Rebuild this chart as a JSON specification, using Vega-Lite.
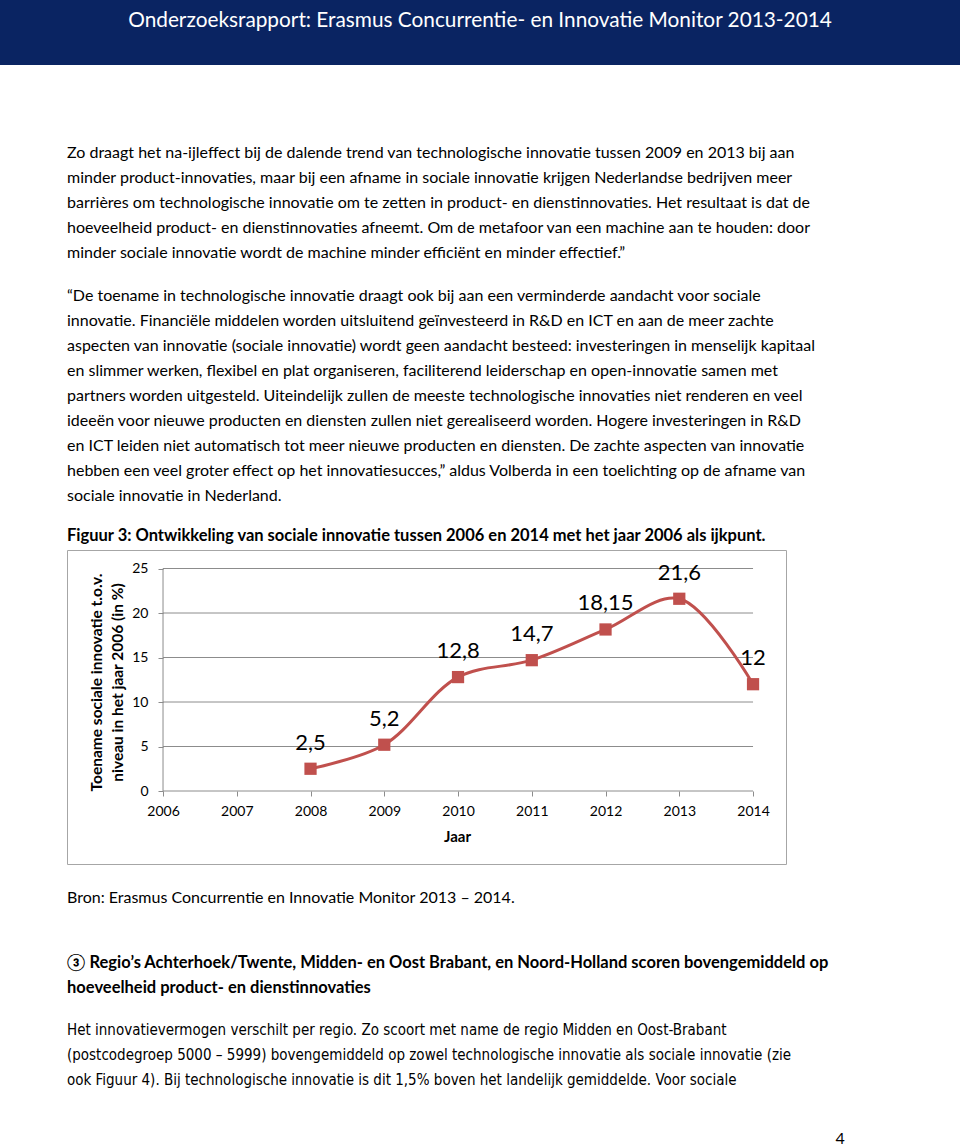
{
  "$schema": "https://vega.github.io/schema/vega-lite/v6.json",
  "padding": 0,
  "spacing": 80,
  "background": "white",
  "config": {
    "locale": {"number": {"decimal": ",", "thousands": ".", "grouping": [3], "currency": ["€ ", ""]}},
    "view": {"stroke": null},
    "concat": {"spacing": 0},
    "title": {"font": "Lato", "fontSize": 16, "fontWeight": "normal", "color": "#000000", "anchor": "start", "frame": "group", "lineHeight": 25, "subtitleFont": "Lato", "subtitleFontSize": 16, "subtitleColor": "#000000", "subtitleLineHeight": 25}
  },
  "vconcat": [
    {
      "width": 960,
      "height": 65,
      "view": {"fill": "#0a2462", "stroke": null},
      "data": {"values": [{"kop": "Onderzoeksrapport: Erasmus Concurrentie- en Innovatie Monitor 2013-2014"}]},
      "mark": {"type": "text", "color": "#ffffff", "font": "Lato", "fontSize": 20.8, "baseline": "middle", "dy": -12},
      "encoding": {"text": {"field": "kop"}}
    },
    {
      "spacing": 0,
      "hconcat": [
        {
          "width": 66,
          "height": 1,
          "data": {"values": []},
          "mark": "point",
          "view": {"stroke": null}
        },
        {
          "title": {
            "text": [
              "Zo draagt het na-ijleffect bij de dalende trend van technologische innovatie tussen 2009 en 2013 bij aan",
              "minder product-innovaties, maar bij een afname in sociale innovatie krijgen Nederlandse bedrijven meer",
              "barrières om technologische innovatie om te zetten in product- en dienstinnovaties. Het resultaat is dat de",
              "hoeveelheid product- en dienstinnovaties afneemt. Om de metafoor van een machine aan te houden: door",
              "minder sociale innovatie wordt de machine minder efficiënt en minder effectief.”"
            ],
            "subtitle": [
              "“De toename in technologische innovatie draagt ook bij aan een verminderde aandacht voor sociale",
              "innovatie. Financiële middelen worden uitsluitend geïnvesteerd in R&D en ICT en aan de meer zachte",
              "aspecten van innovatie (sociale innovatie) wordt geen aandacht besteed: investeringen in menselijk kapitaal",
              "en slimmer werken, flexibel en plat organiseren, faciliterend leiderschap en open-innovatie samen met",
              "partners worden uitgesteld. Uiteindelijk zullen de meeste technologische innovaties niet renderen en veel",
              "ideeën voor nieuwe producten en diensten zullen niet gerealiseerd worden. Hogere investeringen in R&D",
              "en ICT leiden niet automatisch tot meer nieuwe producten en diensten. De zachte aspecten van innovatie",
              "hebben een veel groter effect op het innovatiesucces,” aldus Volberda in een toelichting op de afname van",
              "sociale innovatie in Nederland."
            ],
            "subtitlePadding": 27,
            "offset": 23
          },
          "vconcat": [
            {
              "title": {"text": "4", "orient": "bottom", "anchor": "end", "frame": "bounds", "dx": 16, "offset": 43},
              "vconcat": [
                {
                  "title": {
                    "text": [
                      "③ Regio’s Achterhoek/Twente, Midden- en Oost Brabant, en Noord-Holland scoren bovengemiddeld op",
                      "hoeveelheid product- en dienstinnovaties"
                    ],
                    "subtitle": [
                      "Het innovatievermogen verschilt per regio. Zo scoort met name de regio Midden en Oost-Brabant",
                      "(postcodegroep 5000 – 5999) bovengemiddeld op zowel technologische innovatie als sociale innovatie (zie",
                      "ook Figuur 4). Bij technologische innovatie is dit 1,5% boven het landelijk gemiddelde. Voor sociale"
                    ],
                    "orient": "bottom",
                    "fontWeight": "bold",
                    "fontSize": 16.5,
                    "offset": 49,
                    "subtitlePadding": 27,
                    "subtitleFont": "DejaVu Sans Condensed",
                    "subtitleFontSize": 15
                  },
                  "vconcat": [
                    {
                      "title": {"text": "Bron: Erasmus Concurrentie en Innovatie Monitor 2013 – 2014.", "orient": "bottom", "offset": 25},
                      "vconcat": [
                        {
                          "width": 719,
                          "height": 314,
                          "view": {"stroke": "#a6a6a6", "strokeWidth": 1},
                          "title": {"text": "Figuur 3: Ontwikkeling van sociale innovatie tussen 2006 en 2014 met het jaar 2006 als ijkpunt.", "fontWeight": "bold", "fontSize": 16.5, "offset": 6},
                          "data": {"values": [
                            {"jaar": 2008, "waarde": 2.5},
                            {"jaar": 2009, "waarde": 5.2},
                            {"jaar": 2010, "waarde": 12.8},
                            {"jaar": 2011, "waarde": 14.7},
                            {"jaar": 2012, "waarde": 18.15},
                            {"jaar": 2013, "waarde": 21.6},
                            {"jaar": 2014, "waarde": 12}
                          ]},
                          "layer": [
                            {
                              "data": {"values": [{"v": 0}, {"v": 5}, {"v": 10}, {"v": 15}, {"v": 20}, {"v": 25}]},
                              "mark": {"type": "rule", "color": "#8c8c8c", "strokeWidth": 1},
                              "encoding": {
                                "y": {"field": "v", "type": "quantitative", "scale": {"domain": [-8.202, 27.079], "nice": false, "zero": false}},
                                "x": {"datum": 2006, "type": "quantitative", "scale": {"domain": [2004.698, 2014.447], "nice": false, "zero": false}},
                                "x2": {"datum": 2014}
                              }
                            },
                            {
                              "data": {"values": [{"jaar": 2006}]},
                              "mark": {"type": "rule", "color": "#8c8c8c", "strokeWidth": 1},
                              "encoding": {
                                "x": {"field": "jaar", "type": "quantitative", "scale": {"domain": [2004.698, 2014.447], "nice": false, "zero": false}},
                                "y": {"datum": 0, "type": "quantitative", "scale": {"domain": [-8.202, 27.079], "nice": false, "zero": false}},
                                "y2": {"datum": 25}
                              }
                            },
                            {
                              "mark": {"type": "line", "interpolate": "catmull-rom", "color": "#c0504d", "strokeWidth": 3},
                              "encoding": {
                                "x": {
                                  "field": "jaar", "type": "quantitative",
                                  "scale": {"domain": [2004.698, 2014.447], "nice": false, "zero": false},
                                  "axis": {
                                    "values": [2006, 2007, 2008, 2009, 2010, 2011, 2012, 2013, 2014],
                                    "format": "d", "offset": -73, "domain": false, "grid": false,
                                    "ticks": true, "tickSize": 5, "tickColor": "#8c8c8c",
                                    "labelFont": "Lato", "labelFontSize": 14, "labelColor": "#000000", "labelPadding": 8,
                                    "labelFlush": false, "labelOverlap": false,
                                    "title": "Jaar", "titleFont": "Lato", "titleFontSize": 15, "titleFontWeight": "bold", "titleColor": "#000000",
                                    "titleX": 390, "titleY": 38
                                  }
                                },
                                "y": {
                                  "field": "waarde", "type": "quantitative",
                                  "scale": {"domain": [-8.202, 27.079], "nice": false, "zero": false},
                                  "axis": {
                                    "values": [0, 5, 10, 15, 20, 25],
                                    "offset": -96, "domain": false, "grid": false,
                                    "ticks": true, "tickSize": 5, "tickColor": "#8c8c8c",
                                    "labelFont": "Lato", "labelFontSize": 14, "labelColor": "#000000", "labelPadding": 10,
                                    "labelOverlap": false,
                                    "title": ["Toename sociale innovatie t.o.v.", "niveau in het jaar 2006 (in %)"],
                                    "titleFont": "Lato", "titleFontSize": 15.5, "titleFontWeight": "bold", "titleColor": "#000000",
                                    "titleLineHeight": 21, "titleX": -59, "titleY": 132
                                  }
                                }
                              }
                            },
                            {
                              "mark": {"type": "square", "size": 150, "color": "#c0504d", "filled": true, "opacity": 1},
                              "encoding": {
                                "x": {"field": "jaar", "type": "quantitative", "scale": {"domain": [2004.698, 2014.447], "nice": false, "zero": false}},
                                "y": {"field": "waarde", "type": "quantitative", "scale": {"domain": [-8.202, 27.079], "nice": false, "zero": false}}
                              }
                            },
                            {
                              "mark": {"type": "text", "font": "Lato", "fontSize": 22, "dy": -19, "baseline": "alphabetic", "color": "#000000"},
                              "encoding": {
                                "x": {"field": "jaar", "type": "quantitative", "scale": {"domain": [2004.698, 2014.447], "nice": false, "zero": false}},
                                "y": {"field": "waarde", "type": "quantitative", "scale": {"domain": [-8.202, 27.079], "nice": false, "zero": false}},
                                "text": {"field": "waarde", "type": "quantitative", "format": "~g"}
                              }
                            }
                          ]
                        }
                      ]
                    }
                  ]
                }
              ]
            }
          ]
        }
      ]
    }
  ]
}
